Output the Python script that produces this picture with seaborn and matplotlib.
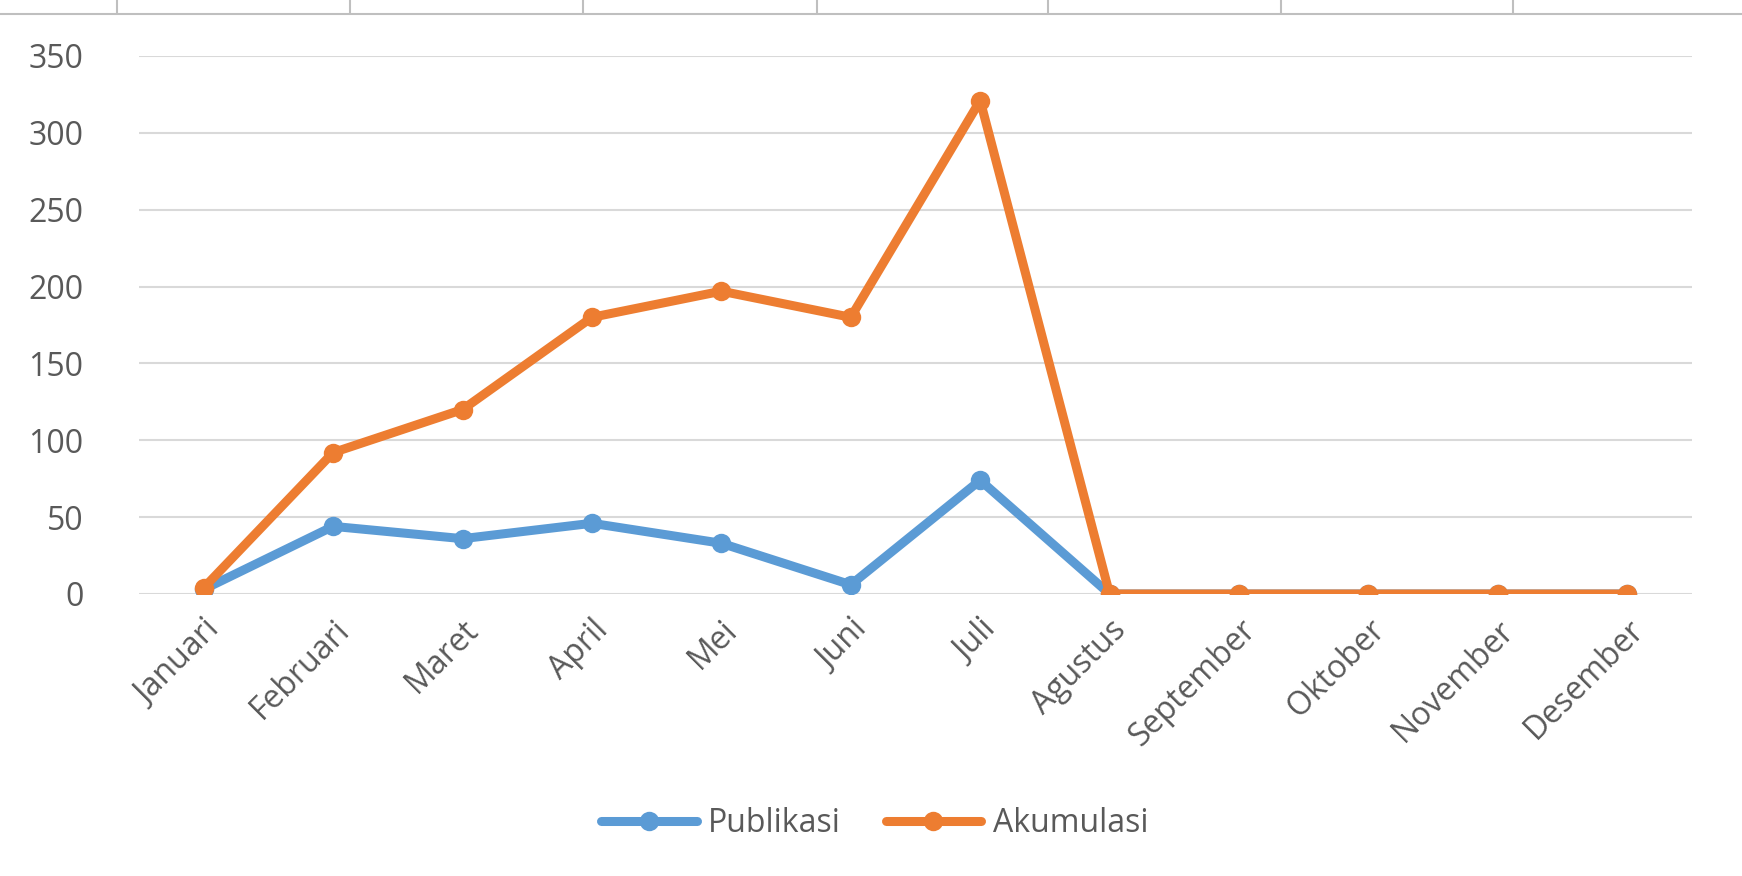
import numpy as np
import pandas as pd
import matplotlib
matplotlib.use("Agg")
import matplotlib.pyplot as plt
import seaborn as sns
from matplotlib.lines import Line2D

# data
bulan = ['Januari', 'Februari', 'Maret', 'April', 'Mei', 'Juni', 'Juli',
         'Agustus', 'September', 'Oktober', 'November', 'Desember']
publikasi = [3, 44, 36, 46, 33, 6, 74, 0, 0, 0, 0, 0]
akumulasi = [4, 92, 120, 180, 197, 180, 321, 0, 0, 0, 0, 0]
y_ticks = [0, 50, 100, 150, 200, 250, 300, 350]

df = pd.DataFrame({
    'idx': list(range(len(bulan))) * 2,
    'Jumlah': publikasi + akumulasi,
    'Seri': ['Publikasi'] * len(bulan) + ['Akumulasi'] * len(bulan),
})

sns.set_style("white")
plt.rcParams['font.family'] = ['Open Sans', 'DejaVu Sans']
text_color = '#595959'
fs = 23

fig = plt.figure(figsize=(17.42, 8.76), dpi=100)
ax = fig.add_axes([139 / 1742, 1 - 594 / 876, (1692 - 139) / 1742, (594 - 56) / 876])

palette = {'Publikasi': '#5B9BD5', 'Akumulasi': '#ED7D31'}
sns.lineplot(data=df, x='idx', y='Jumlah', hue='Seri', hue_order=['Publikasi', 'Akumulasi'],
             palette=palette, marker='o', markersize=14, markeredgewidth=0,
             linewidth=6.5, ax=ax, legend=False, zorder=3)

ax.set_xlim(-0.5, len(bulan) - 0.5)
ax.set_ylim(0, 350)
ax.set_yticks(y_ticks)
ax.set_xticks(range(len(bulan)))
ax.set_xticklabels(bulan, rotation=45, ha='right', rotation_mode='anchor')
ax.tick_params(axis='both', length=0, labelsize=fs, colors=text_color)
ax.tick_params(axis='y', pad=40)
ax.tick_params(axis='x', pad=14)
ax.grid(axis='y', color='#D9D9D9', linewidth=1.5)
ax.set_axisbelow(True)
for s in ax.spines.values():
    s.set_visible(False)
ax.set_xlabel('')
ax.set_ylabel('')

# legend at the bottom centre
handles = [Line2D([], [], color=palette[k], lw=6.5, marker='o', markersize=14, markeredgewidth=0)
           for k in ['Publikasi', 'Akumulasi']]
fig.legend(handles, ['Publikasi', 'Akumulasi'], loc='center', bbox_to_anchor=(0.502, 1 - 824 / 876),
           ncol=2, frameon=False, fontsize=fs, handlelength=3.0, handletextpad=0.35,
           columnspacing=1.4, labelcolor=text_color)

# remnant of the axis of the chart above (top edge)
top = fig.add_axes([0, 1 - 14 / 876, 1, 12 / 876])
top.set_xlim(0, 1742)
top.set_yticks([])
top.set_xticks([117, 350, 583, 817, 1048, 1281, 1513])
top.set_xticklabels([])
top.tick_params(axis='x', bottom=True, direction='in', length=10, color='#BFBFBF', width=1.5)
for k, s in top.spines.items():
    s.set_visible(k == 'bottom')
top.spines['bottom'].set_color('#BFBFBF')
top.spines['bottom'].set_linewidth(1.5)
top.patch.set_alpha(0)

fig.savefig('out.png', dpi=100)
